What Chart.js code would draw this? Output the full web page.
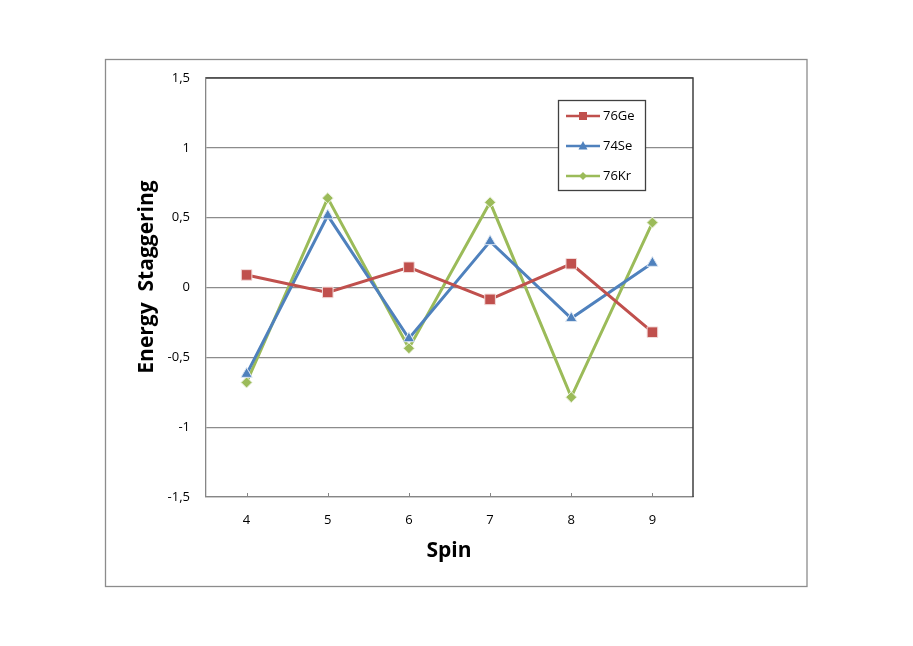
<!DOCTYPE html>
<html>
<head>
    <title>Energy Staggering</title>
    <script src="https://cdn.jsdelivr.net/npm/chart.js"></script>
    <style>
        body {
            margin: 0;
            padding: 0;
            background: #ffffff;
        }

        .chart-container {
            position: relative;
            width: 913px;
            height: 646px;
        }
    </style>
</head>
<body>
<div class="chart-container">
    <canvas id="staggerChart"></canvas>
</div>

<script>
    const spins = ['4', '5', '6', '7', '8', '9'];
    const ge76 = [0.09, -0.035, 0.145, -0.085, 0.17, -0.32];
    const se74 = [-0.62, 0.515, -0.365, 0.33, -0.22, 0.175];
    const kr76 = [-0.68, 0.64, -0.435, 0.61, -0.785, 0.465];
    const yTicks = [-1.5, -1, -0.5, 0, 0.5, 1, 1.5];

    const FONT = "'Open Sans', sans-serif";

    // Outer frame, plot border, x tick marks, axis titles and legend
    const decorPlugin = {
        id: 'decor',
        beforeDraw(chart) {
            const ctx = chart.ctx;
            ctx.save();
            ctx.fillStyle = '#ffffff';
            ctx.fillRect(0, 0, chart.width, chart.height);
            ctx.strokeStyle = '#8c8c8c';
            ctx.lineWidth = 1.3;
            ctx.strokeRect(105.5, 59.5, 701.5, 527);
            ctx.restore();
        },
        afterDatasetsDraw(chart) {
            const ctx = chart.ctx;
            const area = chart.chartArea;
            const x = chart.scales.x;

            ctx.save();
            // darker top and right border of the plot area
            ctx.strokeStyle = '#404040';
            ctx.lineWidth = 1.5;
            ctx.beginPath();
            ctx.moveTo(area.left, area.top);
            ctx.lineTo(area.right, area.top);
            ctx.lineTo(area.right, area.bottom);
            ctx.stroke();

            // small tick marks on the x axis
            ctx.strokeStyle = '#868686';
            ctx.lineWidth = 1;
            spins.forEach((s, i) => {
                const px = Math.round(x.getPixelForValue(i)) + 0.5;
                ctx.beginPath();
                ctx.moveTo(px, area.bottom);
                ctx.lineTo(px, area.bottom - 4);
                ctx.stroke();
            });

            // axis titles
            ctx.fillStyle = '#000000';
            ctx.font = 'bold 21px ' + FONT;
            ctx.textAlign = 'center';
            ctx.textBaseline = 'middle';
            ctx.fillText('Spin', 449, 551);

            ctx.translate(147, 277);
            ctx.rotate(-Math.PI / 2);
            ctx.fillText('Energy  Staggering', 0, 0);
            ctx.restore();

            // legend box
            ctx.save();
            ctx.fillStyle = '#ffffff';
            ctx.fillRect(558, 100, 87, 90);
            ctx.strokeStyle = '#404040';
            ctx.lineWidth = 1.3;
            ctx.strokeRect(558.5, 100.5, 87, 90);

            ctx.font = '13px ' + FONT;
            ctx.textAlign = 'left';
            ctx.textBaseline = 'middle';
            chart.data.datasets.forEach((ds, i) => {
                const cy = 116 + i * 30;
                ctx.strokeStyle = ds.borderColor;
                ctx.lineWidth = 2.5;
                ctx.beginPath();
                ctx.moveTo(566, cy);
                ctx.lineTo(600, cy);
                ctx.stroke();
                ctx.fillStyle = ds.borderColor;
                ctx.beginPath();
                if (ds.pointStyle === 'rect') {
                    ctx.rect(579, cy - 4, 8, 8);
                } else if (ds.pointStyle === 'triangle') {
                    ctx.moveTo(583, cy - 5);
                    ctx.lineTo(587.5, cy + 3.5);
                    ctx.lineTo(578.5, cy + 3.5);
                    ctx.closePath();
                } else {
                    ctx.moveTo(583, cy - 4);
                    ctx.lineTo(587, cy);
                    ctx.lineTo(583, cy + 4);
                    ctx.lineTo(579, cy);
                    ctx.closePath();
                }
                ctx.fill();
                ctx.fillStyle = '#000000';
                ctx.fillText(ds.label, 603, cy);
            });
            ctx.restore();
        }
    };

    const ctx = document.getElementById('staggerChart').getContext('2d');

    new Chart(ctx, {
        type: 'line',
        data: {
            labels: spins,
            datasets: [{
                label: '76Ge',
                data: ge76,
                borderColor: '#C0504D',
                backgroundColor: '#C0504D',
                pointBorderColor: '#f2dcdb',
                pointStyle: 'rect',
                pointRadius: 7.5,
                borderWidth: 3,
                pointBorderWidth: 1
            }, {
                label: '74Se',
                data: se74,
                borderColor: '#4F81BD',
                backgroundColor: '#4F81BD',
                pointBorderColor: '#dce6f2',
                pointStyle: 'triangle',
                pointRadius: 6.5,
                borderWidth: 3,
                pointBorderWidth: 1
            }, {
                label: '76Kr',
                data: kr76,
                borderColor: '#9BBB59',
                backgroundColor: '#9BBB59',
                pointBorderColor: '#ebf1de',
                pointStyle: 'rectRot',
                pointRadius: 5.5,
                borderWidth: 3,
                pointBorderWidth: 1
            }]
        },
        options: {
            responsive: true,
            maintainAspectRatio: false,
            animation: false,
            layout: {
                padding: { left: 0, right: 220, top: 78, bottom: 0 }
            },
            plugins: {
                legend: { display: false },
                tooltip: { enabled: false }
            },
            elements: {
                line: { tension: 0 }
            },
            scales: {
                x: {
                    offset: true,
                    afterFit: scale => { scale.height = 149; },
                    grid: { display: false },
                    border: { display: true, color: '#868686', width: 1.3 },
                    ticks: {
                        color: '#000000',
                        padding: 7,
                        font: { family: FONT, size: 13 }
                    }
                },
                y: {
                    min: -1.5,
                    max: 1.5,
                    afterFit: scale => { scale.width = 206; },
                    afterBuildTicks: scale => {
                        scale.ticks = yTicks.map(v => ({ value: v }));
                    },
                    grid: {
                        color: '#8c8c8c',
                        lineWidth: 1.3,
                        drawTicks: false
                    },
                    border: { display: true, color: '#868686', width: 1.3 },
                    ticks: {
                        color: '#000000',
                        padding: 16,
                        font: { family: FONT, size: 13 },
                        callback: v => String(v).replace('.', ',')
                    }
                }
            }
        },
        plugins: [decorPlugin]
    });
</script>
</body>
</html>
